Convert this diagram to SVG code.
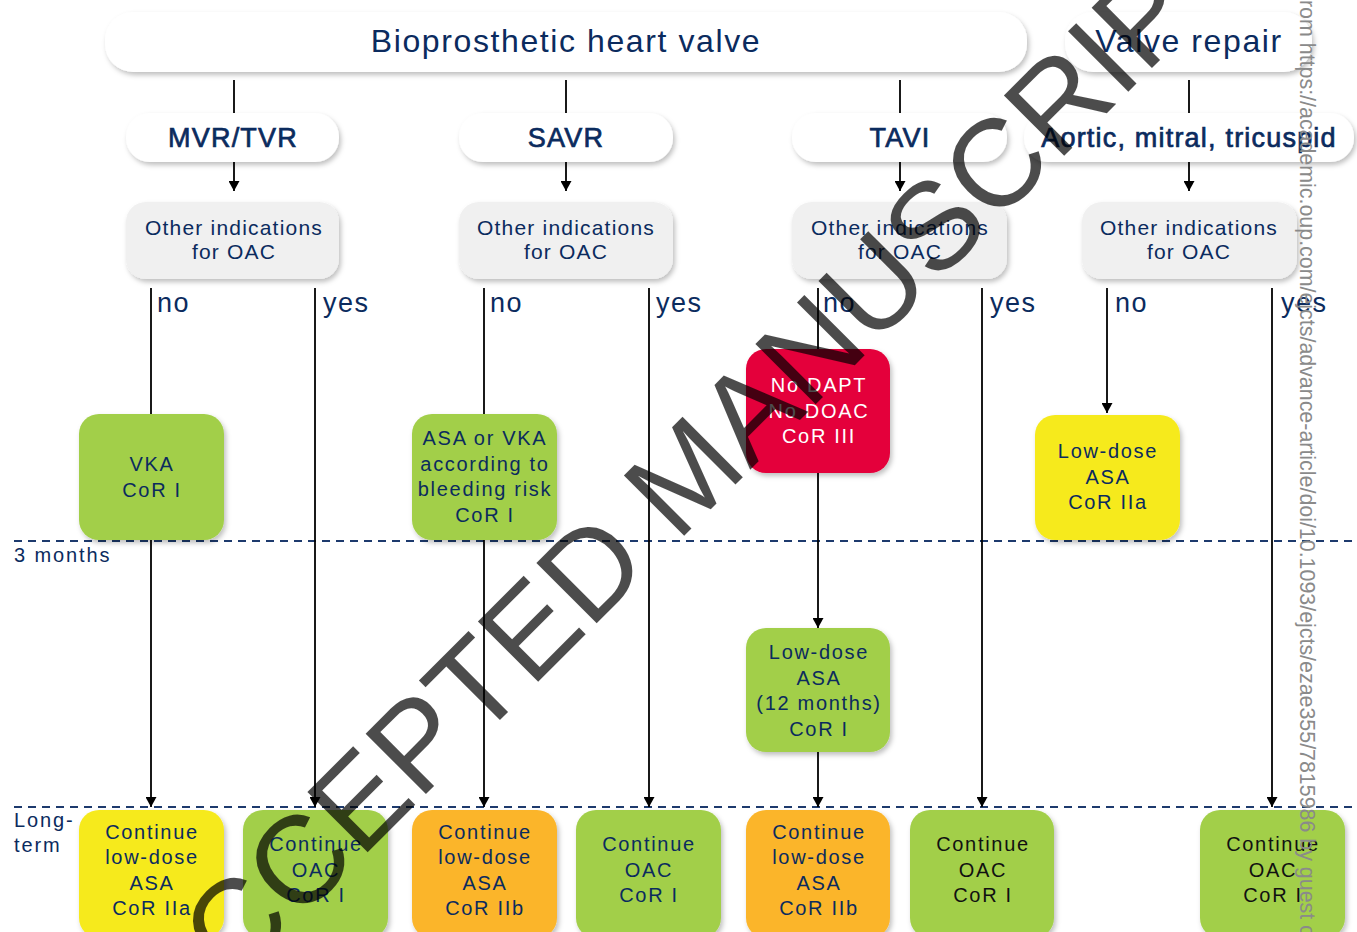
<svg xmlns="http://www.w3.org/2000/svg" width="1357" height="932" viewBox="0 0 1357 932">
  <defs>
    <filter id="shadow" x="-10%" y="-10%" width="125%" height="130%">
      <feDropShadow dx="2" dy="3" stdDeviation="2.5" flood-color="#000" flood-opacity="0.25"/>
    </filter>
    <marker id="arrow" markerUnits="userSpaceOnUse" markerWidth="11" markerHeight="11" refX="10" refY="5.5" orient="auto">
      <path d="M0,0 L10,5.5 L0,11 z" fill="#000"/>
    </marker>
    <style>
      text { font-family: "Liberation Sans", Arial, sans-serif; text-anchor: middle; fill: #0b2b5e; }
      .head rect { fill: #fff; filter: url(#shadow); }
      .head text { font-size: 32px; letter-spacing: 1.6px; }
      .sub rect { fill: #fff; filter: url(#shadow); }
      .sub text { font-size: 27px; letter-spacing: 1.2px; stroke: #0b2b5e; stroke-width: 0.7px; }
      .ind rect { fill: #f0f0f0; filter: url(#shadow); }
      .ind text { font-size: 21px; letter-spacing: 1.2px; }
      .box rect { filter: url(#shadow); }
      .box text { font-size: 20px; letter-spacing: 1.7px; }
      .green rect { fill: #a2cf4a; }
      .yellow rect { fill: #f6ea1e; }
      .orange rect { fill: #fbb52c; }
      .red rect { fill: #e4003a; }
      .red text { fill: #fff; }
      .dark text { fill: #111; }
      .answer { font-size: 27px; letter-spacing: 1.5px; text-anchor: start; }
      .period { font-size: 20px; letter-spacing: 1.9px; text-anchor: start; }
      .conn path { fill: none; stroke: #000; stroke-width: 1.8; }
      .conn .arr { marker-end: url(#arrow); }
      .timeline { stroke: #1d3a6d; stroke-width: 2; stroke-dasharray: 8 6; }
    </style>
  </defs>

  <rect width="1357" height="932" fill="#fff"/>

  <!-- time markers -->
  <g id="timeline">
    <line class="timeline" x1="14" y1="541" x2="1357" y2="541"/>
    <line class="timeline" x1="14" y1="807" x2="1357" y2="807"/>
    <text class="period" x="14" y="562">3 months</text>
    <text class="period" x="14" y="827">Long-</text>
    <text class="period" x="14" y="852">term</text>
  </g>

  <!-- connectors -->
  <g id="connectors" class="conn">
    <path d="M234,80 V113"/>
    <path d="M566,80 V113"/>
    <path d="M900,80 V113"/>
    <path d="M1189,80 V113"/>
    <path class="arr" d="M234,162 V191"/>
    <path class="arr" d="M566,162 V191"/>
    <path class="arr" d="M900,162 V191"/>
    <path class="arr" d="M1189,162 V191"/>
    <path class="arr" d="M151,288 V807"/>
    <path class="arr" d="M315,288 V807"/>
    <path class="arr" d="M484,288 V807"/>
    <path class="arr" d="M649,288 V807"/>
    <path d="M818,288 V360"/>
    <path class="arr" d="M818,473 V628"/>
    <path class="arr" d="M818,752 V807"/>
    <path class="arr" d="M982,288 V807"/>
    <path class="arr" d="M1107,288 V413"/>
    <path class="arr" d="M1272,288 V807"/>
  </g>

  <!-- branch answers -->
  <g id="answers">
    <text class="answer" x="157" y="312">no</text>
    <text class="answer" x="323" y="312">yes</text>
    <text class="answer" x="490" y="312">no</text>
    <text class="answer" x="656" y="312">yes</text>
    <text class="answer" x="823" y="312">no</text>
    <text class="answer" x="990" y="312">yes</text>
    <text class="answer" x="1115" y="312">no</text>
    <text class="answer" x="1281" y="312">yes</text>
  </g>

  <!-- top level -->
  <g id="bioprosthetic" class="head">
    <rect x="105" y="12" width="922" height="60" rx="28"/>
    <text x="566" y="52">Bioprosthetic heart valve</text>
  </g>
  <g id="valve-repair" class="head">
    <rect x="1065" y="12" width="247" height="60" rx="28"/>
    <text x="1189" y="52">Valve repair</text>
  </g>

  <!-- procedures -->
  <g id="mvr-tvr" class="sub">
    <rect x="126" y="113" width="213" height="49" rx="24"/>
    <text x="233" y="147">MVR/TVR</text>
  </g>
  <g id="savr" class="sub">
    <rect x="459" y="113" width="214" height="49" rx="24"/>
    <text x="566" y="147">SAVR</text>
  </g>
  <g id="tavi" class="sub">
    <rect x="792" y="113" width="215" height="49" rx="24"/>
    <text x="900" y="147">TAVI</text>
  </g>
  <g id="repair-site" class="sub">
    <rect x="1024" y="113" width="330" height="49" rx="24"/>
    <text x="1189" y="147">Aortic, mitral, tricuspid</text>
  </g>

  <!-- OAC indication questions -->
  <g id="oac-mvr" class="ind">
    <rect x="126" y="202" width="213" height="77" rx="20"/>
    <text x="234" y="235">Other indications</text>
    <text x="234" y="259">for OAC</text>
  </g>
  <g id="oac-savr" class="ind">
    <rect x="459" y="202" width="214" height="77" rx="20"/>
    <text x="566" y="235">Other indications</text>
    <text x="566" y="259">for OAC</text>
  </g>
  <g id="oac-tavi" class="ind">
    <rect x="792" y="202" width="215" height="77" rx="20"/>
    <text x="900" y="235">Other indications</text>
    <text x="900" y="259">for OAC</text>
  </g>
  <g id="oac-repair" class="ind">
    <rect x="1082" y="202" width="215" height="77" rx="20"/>
    <text x="1189" y="235">Other indications</text>
    <text x="1189" y="259">for OAC</text>
  </g>

  <!-- early therapy -->
  <g id="vka" class="box green">
    <rect x="79" y="414" width="145" height="126" rx="20"/>
    <text x="152" y="471">VKA</text>
    <text x="152" y="497">CoR I</text>
  </g>
  <g id="asa-or-vka" class="box green">
    <rect x="412" y="414" width="145" height="126" rx="20"/>
    <text x="485" y="445">ASA or VKA</text>
    <text x="485" y="471">according to</text>
    <text x="485" y="496">bleeding risk</text>
    <text x="485" y="522">CoR I</text>
  </g>
  <g id="no-dapt" class="box red">
    <rect x="746" y="349" width="144" height="124" rx="20"/>
    <text x="819" y="392">No DAPT</text>
    <text x="819" y="418">No DOAC</text>
    <text x="819" y="443">CoR III</text>
  </g>
  <g id="asa-repair" class="box yellow">
    <rect x="1035" y="415" width="145" height="125" rx="20"/>
    <text x="1108" y="458">Low-dose</text>
    <text x="1108" y="484">ASA</text>
    <text x="1108" y="509">CoR IIa</text>
  </g>
  <g id="asa-12m" class="box green">
    <rect x="746" y="628" width="144" height="124" rx="20"/>
    <text x="819" y="659">Low-dose</text>
    <text x="819" y="685">ASA</text>
    <text x="819" y="710">(12 months)</text>
    <text x="819" y="736">CoR I</text>
  </g>

  <!-- long-term therapy -->
  <g id="lt-1" class="box yellow">
    <rect x="79" y="810" width="145" height="128" rx="20"/>
    <text x="152" y="839">Continue</text>
    <text x="152" y="864">low-dose</text>
    <text x="152" y="890">ASA</text>
    <text x="152" y="915">CoR IIa</text>
  </g>
  <g id="lt-2" class="box green">
    <rect x="243" y="810" width="145" height="128" rx="20"/>
    <text x="316" y="851">Continue</text>
    <text x="316" y="877">OAC</text>
    <text x="316" y="902">CoR I</text>
  </g>
  <g id="lt-3" class="box orange">
    <rect x="412" y="810" width="145" height="128" rx="20"/>
    <text x="485" y="839">Continue</text>
    <text x="485" y="864">low-dose</text>
    <text x="485" y="890">ASA</text>
    <text x="485" y="915">CoR IIb</text>
  </g>
  <g id="lt-4" class="box green">
    <rect x="576" y="810" width="145" height="128" rx="20"/>
    <text x="649" y="851">Continue</text>
    <text x="649" y="877">OAC</text>
    <text x="649" y="902">CoR I</text>
  </g>
  <g id="lt-5" class="box orange">
    <rect x="746" y="810" width="144" height="128" rx="20"/>
    <text x="819" y="839">Continue</text>
    <text x="819" y="864">low-dose</text>
    <text x="819" y="890">ASA</text>
    <text x="819" y="915">CoR IIb</text>
  </g>
  <g id="lt-6" class="box green dark">
    <rect x="910" y="810" width="144" height="128" rx="20"/>
    <text x="983" y="851">Continue</text>
    <text x="983" y="877">OAC</text>
    <text x="983" y="902">CoR I</text>
  </g>
  <g id="lt-7" class="box green dark">
    <rect x="1200" y="810" width="145" height="128" rx="20"/>
    <text x="1273" y="851">Continue</text>
    <text x="1273" y="877">OAC</text>
    <text x="1273" y="902">CoR I</text>
  </g>

  <!-- download notice along the right edge -->
  <text transform="translate(1300,0) rotate(90)" x="0" y="0" style="font-size:21.4px;fill:#8a8a8a;text-anchor:start;letter-spacing:0">rom https://academic.oup.com/ejcts/advance-article/doi/10.1093/ejcts/ezae355/7815986 by guest o</text>

  <!-- manuscript stamp -->
  <text transform="translate(716,504) rotate(-45)" x="0" y="0" style="font-size:124px;fill:#000;fill-opacity:0.7;letter-spacing:0">ACCEPTED MANUSCRIPT</text>
</svg>
